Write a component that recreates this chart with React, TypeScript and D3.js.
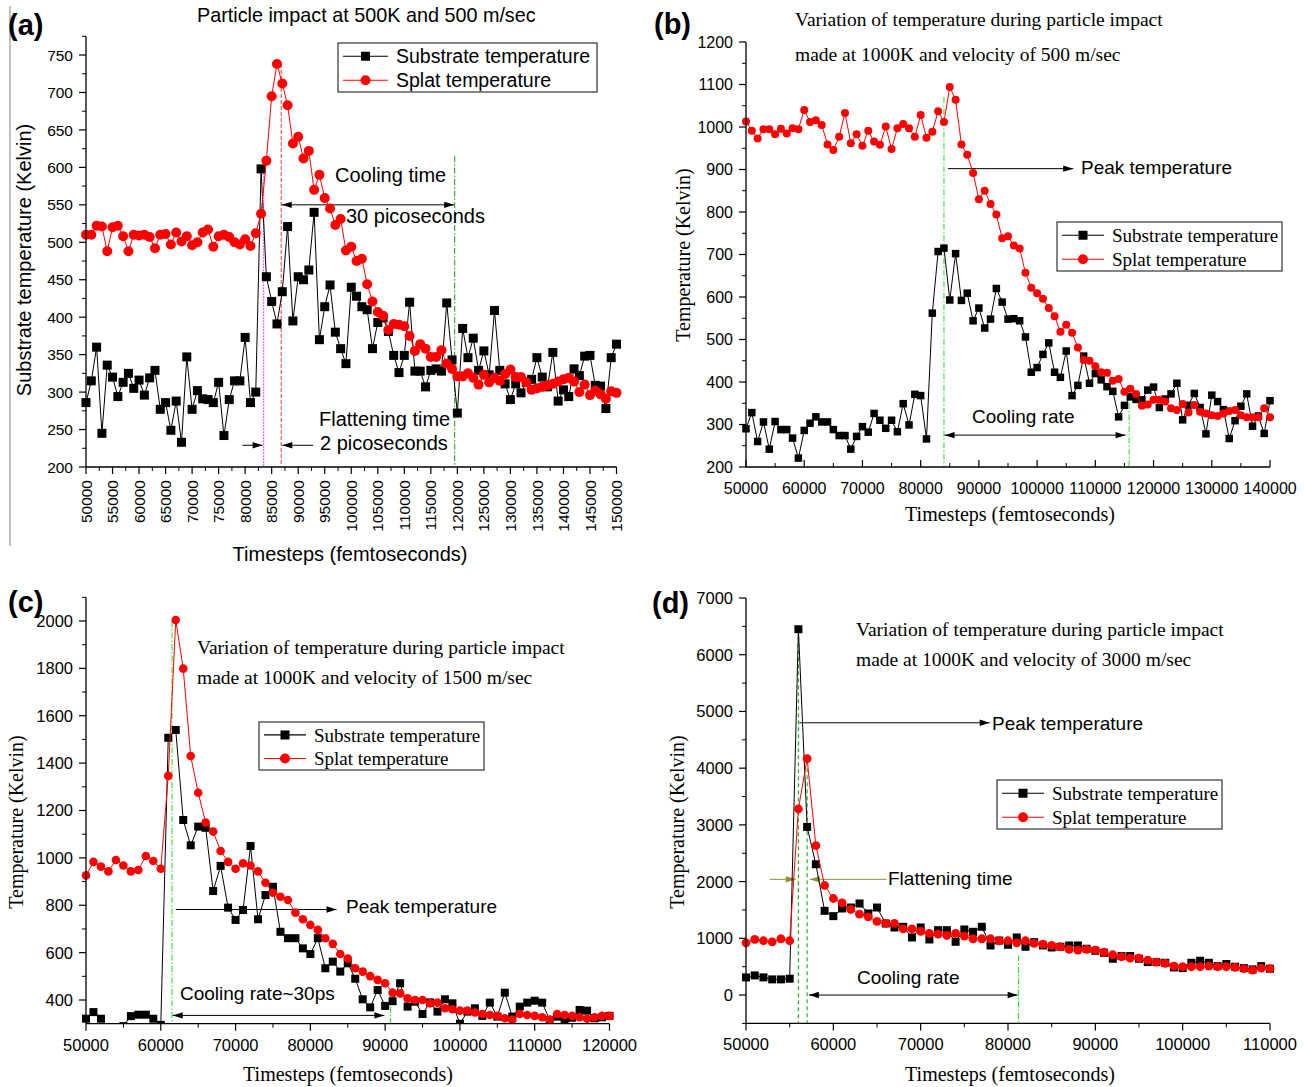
import React from 'react';
import * as d3 from 'd3';

const SANS = '"Liberation Sans", Arial, sans-serif';
const SERIF = '"Liberation Serif", "Times New Roman", serif';

// (a) 500K / 500 m/sec, one sample every 1000 fs
const stepsA = d3.range(50000, 150001, 1000);
const substrateA = [
  286, 315, 360, 245, 336, 320, 294, 313, 325, 305,
  316, 296, 319, 329, 277, 286, 249, 288, 233, 347,
  277, 302, 291, 290, 286, 313, 242, 290, 315, 315,
  373, 286, 300, 598, 454, 421, 391, 434, 521, 395,
  454, 450, 463, 540, 370, 414, 443, 380, 358, 338,
  440, 428, 414, 410, 358, 393, 399, 381, 349, 326,
  349, 420, 328, 328, 307, 329, 331, 328, 419, 343,
  272, 385, 346, 372, 329, 355, 323, 409, 329, 311,
  290, 311, 299, 313, 317, 346, 320, 307, 353, 288,
  303, 294, 331, 322, 348, 349, 309, 308, 278, 346,
  364,
];
const splatA = [
  510, 510, 522, 521, 488, 520, 522, 508, 488, 510,
  509, 510, 507, 492, 510, 511, 497, 513, 501, 508,
  496, 500, 513, 517, 494, 508, 510, 507, 500, 497,
  504, 495, 512, 538, 609, 695, 738, 712, 683, 632,
  641, 612, 622, 570, 590, 559, 545, 523, 531, 489,
  494, 475, 478, 444, 421, 407, 402, 383, 391, 390,
  388, 375, 355, 364, 358, 347, 347, 356, 338, 331,
  321, 321, 325, 319, 310, 323, 313, 319, 315, 324,
  330, 320, 320, 313, 303, 305, 307, 309, 311, 314,
  317, 319, 314, 300, 310, 296, 302, 297, 291, 301,
  299,
];

// (b) 1000K / 500 m/sec
const stepsB = d3.range(50000, 140001, 1000);
const substrateB = [
  290, 328, 260, 306, 242, 307, 288, 288, 268, 221,
  286, 303, 318, 306, 306, 288, 274, 274, 242, 272,
  295, 282, 326, 310, 291, 310, 283, 349, 299, 371,
  368, 266, 562, 707, 715, 593, 702, 592, 609, 544,
  574, 527, 548, 620, 588, 548, 549, 544, 506, 423,
  434, 465, 492, 423, 411, 473, 368, 392, 461, 397,
  420, 405, 389, 378, 318, 345, 365, 359, 358, 381,
  388, 340, 360, 372, 397, 311, 345, 373, 340, 278,
  369, 354, 335, 267, 309, 343, 372, 296, 320, 279,
  356,
];
const splatB = [
  1013, 991, 973, 995, 995, 983, 996, 985, 997, 995,
  1040, 1012, 1016, 1005, 959, 946, 977, 1033, 962, 983,
  956, 991, 966, 958, 1001, 948, 997, 1007, 997, 977,
  1028, 975, 989, 1037, 1012, 1094, 1064, 959, 935, 892,
  830, 850, 819, 794, 738, 743, 721, 714, 657, 622,
  609, 596, 574, 555, 518, 535, 516, 481, 452, 450,
  437, 423, 422, 403, 407, 377, 384, 372, 344, 347,
  358, 358, 354, 338, 334, 348, 328, 346, 330, 326,
  322, 320, 326, 332, 334, 322, 317, 317, 317, 338,
  317,
];

// (c) 1000K / 1500 m/sec
const stepsC = d3.range(50000, 120001, 1000);
const substrateC = [
  321, 349, 321, 285, 280, 290, 332, 338, 338, 321,
  295, 1507, 1540, 1160, 1053, 1132, 1127, 860, 966, 790,
  738, 780, 1050, 741, 843, 878, 688, 661, 661, 618,
  594, 661, 534, 562, 520, 555, 490, 403, 369, 442,
  375, 395, 471, 372, 393, 341, 390, 351, 403, 386,
  300, 351, 365, 333, 389, 330, 431, 330, 372, 389,
  397, 389, 316, 330, 320, 325, 358, 355, 323, 327,
  333,
];
const splatC = [
  926, 983, 963, 943, 991, 968, 943, 949, 1008, 987,
  954, 1346, 2004, 1799, 1430, 1275, 1149, 1111, 1029, 983,
  954, 977, 968, 943, 895, 853, 836, 822, 769, 741,
  717, 696, 661, 637, 594, 575, 534, 520, 501, 485,
  471, 431, 428, 407, 400, 400, 386, 389, 365, 361,
  355, 355, 347, 341, 337, 333, 323, 316, 341, 337,
  333, 327, 318, 341, 337, 333, 327, 321, 327, 333,
  333,
];

// (d) 1000K / 3000 m/sec
const stepsD = d3.range(50000, 110001, 1000);
const substrateD = [
  311, 346, 311, 276, 276, 288, 6450, 2964, 2306, 1485,
  1391, 1526, 1543, 1614, 1438, 1543, 1262, 1191, 1203, 1015,
  1191, 980, 1144, 1144, 939, 1156, 1115, 1203, 874, 960,
  886, 1015, 851, 933, 874, 839, 851, 874, 874, 816,
  780, 745, 640, 687, 687, 640, 581, 581, 569, 487,
  475, 569, 604, 569, 510, 546, 499, 475, 452, 510,
  464,
];
const splatD = [
  921, 980, 957, 939, 992, 957, 3280, 4167, 2635, 1931,
  1702, 1626, 1508, 1426, 1379, 1297, 1262, 1262, 1168, 1168,
  1121, 1086, 1074, 1050, 1086, 1039, 992, 992, 992, 957,
  957, 921, 957, 910, 898, 874, 851, 804, 792, 804,
  792, 757, 710, 675, 651, 651, 616, 581, 557, 510,
  499, 499, 499, 510, 499, 499, 487, 464, 440, 475,
  464,
];

type Scale = d3.ScaleLinear<number, number>;

const HArrow = ({ x1, x2, y, head, color = '#000' }: { x1: number; x2: number; y: number; head: 'start' | 'end' | 'both'; color?: string }) => {
  const L = 10, H = 3.2;
  const tri = (tip: number, dir: number) => `${tip},${y} ${tip - dir * L},${y - H} ${tip - dir * L},${y + H}`;
  const dir = Math.sign(x2 - x1);
  return (
    <g>
      <line x1={x1} x2={x2} y1={y} y2={y} stroke={color} strokeWidth={1} />
      {head !== 'start' && <polygon points={tri(x2, dir)} fill={color} />}
      {head !== 'end' && <polygon points={tri(x1, -dir)} fill={color} />}
    </g>
  );
};

const VLine = ({ x, y1, y2, color, dash, w = 1 }: { x: number; y1: number; y2: number; color: string; dash: string; w?: number }) => (
  <line x1={x} x2={x} y1={y1} y2={y2} stroke={color} strokeWidth={w} strokeDasharray={dash} />
);

interface PanelSpec {
  id: string;
  left: number; right: number; top: number; bottom: number;
  xDomain: [number, number]; yDomain: [number, number];
  xMajor: number[]; xMinor: number[]; yMajor: number[]; yMinor: number[];
  xTickIn?: boolean; rotateX?: boolean;
  tickFont: number;
  steps: number[]; substrate: number[]; splat: number[];
  sq: number; r: number;
  annotate: (x: Scale, y: Scale) => React.ReactNode;
}

function Panel(p: PanelSpec) {
  const x = d3.scaleLinear().domain(p.xDomain).range([p.left, p.right]);
  const y = d3.scaleLinear().domain(p.yDomain).range([p.bottom, p.top]);
  const line = d3.line<number>().x((_, i) => x(p.steps[i])).y((d) => y(d));
  const xDir = p.xTickIn ? -1 : 1;
  return (
    <g>
      <clipPath id={`clip-${p.id}`}>
        <rect x={p.left - 10} y={p.top - 20} width={p.right - p.left + 20} height={p.bottom - p.top + 20} />
      </clipPath>
      {p.annotate(x, y)}
      <g clipPath={`url(#clip-${p.id})`}>
        <path d={line(p.substrate) ?? ''} fill="none" stroke="#000" strokeWidth={1} />
        {p.substrate.map((v, i) => (
          <rect key={i} x={x(p.steps[i]) - p.sq / 2} y={y(v) - p.sq / 2} width={p.sq} height={p.sq} fill="#000" />
        ))}
        <path d={line(p.splat) ?? ''} fill="none" stroke="#ff0000" strokeWidth={1} />
        {p.splat.map((v, i) => (
          <circle key={i} cx={x(p.steps[i])} cy={y(v)} r={p.r} fill="#ff0000" />
        ))}
      </g>
      {/* axes */}
      <line x1={p.left} x2={p.left} y1={p.top} y2={p.bottom} stroke="#000" strokeWidth={1.3} />
      <line x1={p.left} x2={p.right} y1={p.bottom} y2={p.bottom} stroke="#000" strokeWidth={1.3} />
      {p.yMajor.map((v) => (
        <g key={`ym${v}`}>
          <line x1={p.left - 7} x2={p.left} y1={y(v)} y2={y(v)} stroke="#000" strokeWidth={1.2} />
          <text x={p.left - 13} y={y(v)} dy="0.36em" textAnchor="end" fontFamily={SANS} fontSize={p.tickFont}>{v}</text>
        </g>
      ))}
      {p.yMinor.map((v) => (
        <line key={`yn${v}`} x1={p.left - 4} x2={p.left} y1={y(v)} y2={y(v)} stroke="#000" strokeWidth={1} />
      ))}
      {p.xMajor.map((v) => (
        <g key={`xm${v}`}>
          <line x1={x(v)} x2={x(v)} y1={p.bottom} y2={p.bottom + 7 * xDir} stroke="#000" strokeWidth={1.2} />
          {p.rotateX ? (
            <text transform={`translate(${x(v)},${p.bottom + 13}) rotate(-90)`} dy="0.36em" textAnchor="end" fontFamily={SANS} fontSize={p.tickFont}>{v}</text>
          ) : (
            <text x={x(v)} y={p.bottom + 27} textAnchor="middle" fontFamily={SANS} fontSize={p.tickFont}>{v}</text>
          )}
        </g>
      ))}
      {p.xMinor.map((v) => (
        <line key={`xn${v}`} x1={x(v)} x2={x(v)} y1={p.bottom} y2={p.bottom + 4 * xDir} stroke="#000" strokeWidth={1} />
      ))}
    </g>
  );
}

const Legend = ({ x, y, w, h, font, size, textX }: { x: number; y: number; w: number; h: number; font: string; size: number; textX: number }) => {
  const r1 = y + h * 0.27, r2 = y + h * 0.76;
  const sx1 = x + 5, sx2 = textX - 8, mid = (sx1 + sx2) / 2;
  return (
    <g>
      <rect x={x} y={y} width={w} height={h} fill="#fff" stroke="#333" strokeWidth={1.2} />
      <line x1={sx1} x2={sx2} y1={r1} y2={r1} stroke="#000" strokeWidth={1.2} />
      <rect x={mid - 4.5} y={r1 - 4.5} width={9} height={9} fill="#000" />
      <text x={textX} y={r1} dy="0.35em" fontFamily={font} fontSize={size}>Substrate temperature</text>
      <line x1={sx1} x2={sx2} y1={r2} y2={r2} stroke="#ff0000" strokeWidth={1.2} />
      <circle cx={mid} cy={r2} r={5} fill="#ff0000" />
      <text x={textX} y={r2} dy="0.35em" fontFamily={font} fontSize={size}>Splat temperature</text>
    </g>
  );
};

const GREEN = '#22dd22';
const DASHDOT = '6,2,1.5,2';

export default function App() {
  return (
    <svg width={1304} height={1087} style={{ position: 'absolute', left: 0, top: 0, background: '#fff' }}>
      <rect width={1304} height={1087} fill="#fff" />
      <line x1={10} x2={10} y1={6} y2={546} stroke="#999" strokeWidth={1.2} />

      {/* ---------- (a) ---------- */}
      <Panel
        id="a" left={86} right={616.5} top={36.3} bottom={467}
        xDomain={[50000, 150000]} yDomain={[200, 775]}
        xMajor={d3.range(50000, 150001, 5000)} xMinor={d3.range(52500, 150000, 5000)}
        yMajor={d3.range(200, 751, 50)} yMinor={d3.range(225, 776, 50)}
        rotateX tickFont={15.5}
        steps={stepsA} substrate={substrateA} splat={splatA} sq={9} r={5}
        annotate={(x, y) => (
          <g>
            <VLine x={x(83500)} y1={y(600)} y2={y(200)} color="#ff00ff" dash="1.5,1.5" />
            <VLine x={x(86800)} y1={y(738)} y2={y(200)} color="#ff3333" dash="4,2" />
            <VLine x={x(119500)} y1={y(615)} y2={y(200)} color="#1a9a1a" dash={DASHDOT} />
            <HArrow x1={x(86900)} x2={x(119400)} y={y(550)} head="both" />
            <HArrow x1={x(79500)} x2={x(83300)} y={y(229)} head="end" />
            <HArrow x1={x(92800)} x2={x(87000)} y={y(229)} head="end" />
          </g>
        )}
      />
      <text x={8} y={35} fontFamily={SANS} fontWeight="bold" fontSize={29}>(a)</text>
      <text x={197} y={22} fontFamily={SANS} fontSize={19.8}>Particle impact at 500K and 500 m/sec</text>
      <Legend x={338} y={43} w={259} h={49} font={SANS} size={19.5} textX={396} />
      <text x={335} y={182} fontFamily={SANS} fontSize={20}>Cooling time</text>
      <text x={346} y={223} fontFamily={SANS} fontSize={20}>30 picoseconds</text>
      <text x={319} y={426} fontFamily={SANS} fontSize={20}>Flattening time</text>
      <text x={320} y={450} fontFamily={SANS} fontSize={20}>2 picoseconds</text>
      <text transform="translate(31,260) rotate(-90)" textAnchor="middle" fontFamily={SANS} fontSize={20}>Substrate temperature (Kelvin)</text>
      <text x={350} y={561} textAnchor="middle" fontFamily={SANS} fontSize={20}>Timesteps (femtoseconds)</text>

      {/* ---------- (b) ---------- */}
      <Panel
        id="b" left={746} right={1270} top={42} bottom={467}
        xDomain={[50000, 140000]} yDomain={[200, 1200]}
        xMajor={d3.range(50000, 140001, 10000)} xMinor={d3.range(55000, 140000, 10000)}
        yMajor={d3.range(200, 1201, 100)} yMinor={d3.range(250, 1200, 100)}
        xTickIn tickFont={16}
        steps={stepsB} substrate={substrateB} splat={splatB} sq={7.5} r={4}
        annotate={(x, y) => (
          <g>
            <VLine x={x(84000)} y1={y(1070)} y2={y(200)} color={GREEN} dash={DASHDOT} />
            <VLine x={x(115800)} y1={y(378)} y2={y(200)} color={GREEN} dash={DASHDOT} />
            <HArrow x1={x(84700)} x2={x(106200)} y={y(902)} head="end" />
            <HArrow x1={x(84100)} x2={x(115200)} y={y(275)} head="both" />
          </g>
        )}
      />
      <text x={654} y={34} fontFamily={SANS} fontWeight="bold" fontSize={29}>(b)</text>
      <text x={795} y={26} fontFamily={SERIF} fontSize={19.5}>Variation of temperature during particle impact</text>
      <text x={795} y={61} fontFamily={SERIF} fontSize={19.5}>made at 1000K and velocity of 500 m/sec</text>
      <Legend x={1057} y={222} w={225} h={49} font={SERIF} size={19} textX={1112} />
      <text x={1081} y={174} fontFamily={SANS} fontSize={19}>Peak temperature</text>
      <text x={972} y={423} fontFamily={SANS} fontSize={19}>Cooling rate</text>
      <text transform="translate(690,255) rotate(-90)" textAnchor="middle" fontFamily={SERIF} fontSize={20}>Temperature (Kelvin)</text>
      <text x={1010} y={521} textAnchor="middle" fontFamily={SERIF} fontSize={20}>Timesteps (femtoseconds)</text>

      {/* ---------- (c) ---------- */}
      <Panel
        id="c" left={86} right={609.5} top={597.3} bottom={1023.7}
        xDomain={[50000, 120000]} yDomain={[300, 2100]}
        xMajor={d3.range(50000, 120001, 10000)} xMinor={d3.range(55000, 120000, 10000)}
        yMajor={d3.range(400, 2001, 200)} yMinor={d3.range(500, 2101, 200)}
        tickFont={16.5}
        steps={stepsC} substrate={substrateC} splat={splatC} sq={8} r={4.3}
        annotate={(x, y) => (
          <g>
            <VLine x={x(61500)} y1={y(2000)} y2={y(300)} color={GREEN} dash={DASHDOT} />
            <VLine x={x(90700)} y1={y(420)} y2={y(300)} color={GREEN} dash={DASHDOT} />
            <HArrow x1={x(62000)} x2={x(83500)} y={y(782)} head="end" />
            <HArrow x1={x(61600)} x2={x(89900)} y={y(335)} head="both" />
          </g>
        )}
      />
      <text x={8} y={612} fontFamily={SANS} fontWeight="bold" fontSize={29}>(c)</text>
      <text x={197} y={654} fontFamily={SERIF} fontSize={19.5}>Variation of temperature during particle impact</text>
      <text x={197} y={684} fontFamily={SERIF} fontSize={19.5}>made at 1000K and velocity of 1500 m/sec</text>
      <Legend x={259} y={722} w={225} h={48} font={SERIF} size={19} textX={314} />
      <text x={346} y={913} fontFamily={SANS} fontSize={19}>Peak temperature</text>
      <text x={180} y={1000} fontFamily={SANS} fontSize={19}>Cooling rate~30ps</text>
      <text transform="translate(23,822) rotate(-90)" textAnchor="middle" fontFamily={SERIF} fontSize={20}>Temperature (Kelvin)</text>
      <text x={348} y={1081} textAnchor="middle" fontFamily={SERIF} fontSize={20}>Timesteps (femtoseconds)</text>

      {/* ---------- (d) ---------- */}
      <Panel
        id="d" left={746} right={1270} top={598} bottom={1023.4}
        xDomain={[50000, 110000]} yDomain={[-500, 7000]}
        xMajor={d3.range(50000, 110001, 10000)} xMinor={d3.range(55000, 110000, 10000)}
        yMajor={d3.range(0, 7001, 1000)} yMinor={d3.range(-500, 7000, 1000)}
        tickFont={16.5}
        steps={stepsD} substrate={substrateD} splat={splatD} sq={8} r={4.4}
        annotate={(x, y) => (
          <g>
            <VLine x={x(56000)} y1={y(6450)} y2={y(-500)} color="#22bb22" dash="4,3" w={1.2} />
            <VLine x={x(57000)} y1={y(4000)} y2={y(-500)} color="#22bb22" dash="4,3" w={1.2} />
            <VLine x={x(81200)} y1={y(700)} y2={y(-500)} color={GREEN} dash={DASHDOT} />
            <HArrow x1={x(56100)} x2={x(77900)} y={y(4800)} head="end" />
            <HArrow x1={x(52700)} x2={x(55700)} y={y(2040)} head="end" color="#8f8f3a" />
            <HArrow x1={x(66100)} x2={x(57300)} y={y(2040)} head="end" color="#8f8f3a" />
            <HArrow x1={x(57200)} x2={x(81100)} y={y(0)} head="both" />
          </g>
        )}
      />
      <text x={652} y={613} fontFamily={SANS} fontWeight="bold" fontSize={29}>(d)</text>
      <text x={856} y={636} fontFamily={SERIF} fontSize={19.5}>Variation of temperature during particle impact</text>
      <text x={856} y={666} fontFamily={SERIF} fontSize={19.5}>made at 1000K and velocity of 3000 m/sec</text>
      <Legend x={997} y={780} w={225} h={49} font={SERIF} size={19} textX={1052} />
      <text x={992} y={730} fontFamily={SANS} fontSize={19}>Peak temperature</text>
      <text x={888} y={885} fontFamily={SANS} fontSize={19}>Flattening time</text>
      <text x={857} y={984} fontFamily={SANS} fontSize={19}>Cooling rate</text>
      <text transform="translate(684,822) rotate(-90)" textAnchor="middle" fontFamily={SERIF} fontSize={20}>Temperature (Kelvin)</text>
      <text x={1010} y={1081} textAnchor="middle" fontFamily={SERIF} fontSize={20}>Timesteps (femtoseconds)</text>
    </svg>
  );
}
